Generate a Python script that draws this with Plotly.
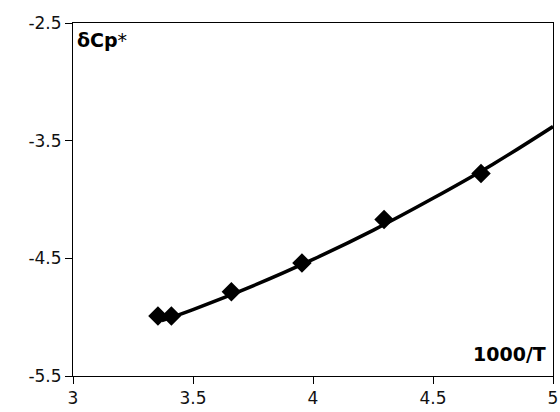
import plotly.graph_objects as go

# measured points
x_pts = [3.354, 3.41, 3.66, 3.954, 4.296, 4.70]
y_pts = [-4.99, -4.99, -4.785, -4.54, -4.17, -3.78]

# fitted curve
x_fit = [3.37, 3.5, 3.75, 4.0, 4.25, 4.5, 4.75, 5.0]
y_fit = [-5.03, -4.935, -4.734, -4.509, -4.262, -3.99, -3.70, -3.38]

x_ticks = [3, 3.5, 4, 4.5, 5]
y_ticks = [-5.5, -4.5, -3.5, -2.5]

fig = go.Figure()
fig.add_trace(go.Scatter(x=x_fit, y=y_fit, mode="lines",
                         line=dict(color="black", width=3.5, shape="spline"),
                         showlegend=False, hoverinfo="skip"))
fig.add_trace(go.Scatter(x=x_pts, y=y_pts, mode="markers",
                         marker=dict(symbol="diamond", size=15, color="black"),
                         showlegend=False))

axis_common = dict(showgrid=False, zeroline=False, showline=True, linecolor="black",
                   linewidth=1, mirror=True, ticks="outside", ticklen=7,
                   tickcolor="black", automargin=False, ticklabeloverflow="allow",
                   tickfont=dict(family="DejaVu Sans, sans-serif", size=17, color="#111"))

fig.update_layout(
    width=560, height=412,
    margin=dict(l=73, r=7, t=23, b=36),
    paper_bgcolor="white", plot_bgcolor="white",
    font=dict(family="DejaVu Sans, sans-serif", size=17, color="black"),
    xaxis=dict(range=[3, 5], tickvals=x_ticks, ticktext=[str(v) for v in x_ticks],
               **axis_common),
    yaxis=dict(range=[-5.5, -2.5], tickvals=y_ticks, ticktext=[str(v) for v in y_ticks],
               **axis_common),
    annotations=[
        dict(text="<b>δCp</b>*", xref="paper", yref="paper", x=0.004, y=0.99,
             xanchor="left", yanchor="top", showarrow=False, font=dict(size=19)),
        dict(text="<b>1000/T</b>", xref="paper", yref="paper", x=0.99, y=0.025,
             xanchor="right", yanchor="bottom", showarrow=False, font=dict(size=19)),
    ],
)

fig.write_html("out.html", config={"displayModeBar": False},
               post_script="document.body.style.margin='0';document.body.style.overflow='hidden';")
